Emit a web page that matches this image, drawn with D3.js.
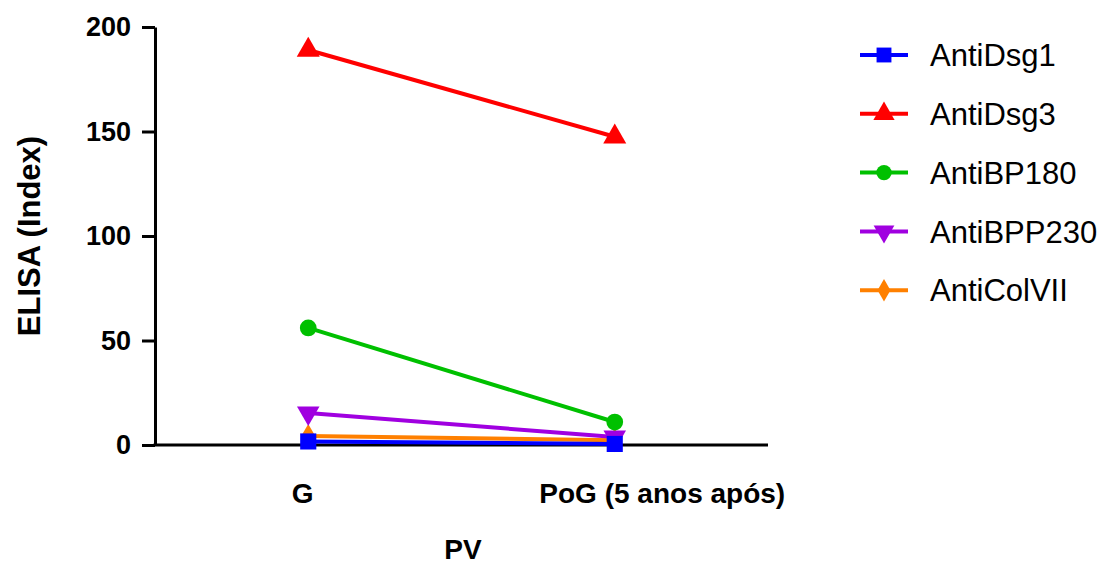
<!DOCTYPE html>
<html>
<head>
<meta charset="utf-8">
<script src="https://cdn.jsdelivr.net/npm/d3@7"></script>
<style>
  body { margin: 0; background: #fff; }
  svg text { font-family: "Liberation Sans", Arial, sans-serif; }
</style>
</head>
<body>
<div class="chart"></div>
<script>
// Data
const groups = ["G", "PoG (5 anos após)"];
const seriesNames = ["AntiDsg1", "AntiDsg3", "AntiBP180", "AntiBPP230", "AntiColVII"];
const dsg1 = [1.7, 0.5];
const dsg3 = [189, 147.5];
const bp180 = [56, 11];
const bpp230 = [15.3, 3.8];
const colVII = [4.3, 2.3];
const yTicks = [0, 50, 100, 150, 200];

const seriesValues = [dsg1, dsg3, bp180, bpp230, colVII];
const colors = ["#0000ff", "#ff0000", "#00c000", "#a000e0", "#ff8000"];
const symbols = [d3.symbolSquare, d3.symbolTriangle, d3.symbolCircle, d3.symbolTriangle, d3.symbolDiamond];
const symbolRotate = [0, 0, 0, 180, 0];
const symbolSize = [260, 230, 220, 220, 170];

const width = 1117, height = 567;
const plot = { left: 155, right: 768, top: 27, bottom: 445 };

const svg = d3.select(".chart")
    .append("svg")
    .attr("width", width)
    .attr("height", height);

const x = d3.scalePoint()
    .domain(groups)
    .range([plot.left, plot.right])
    .padding(0.5);

const y = d3.scaleLinear()
    .domain([0, 200])
    .range([plot.bottom, plot.top]);

// Y axis
const yAxis = svg.append("g")
    .attr("transform", `translate(${plot.left},0)`)
    .call(d3.axisLeft(y).tickValues(yTicks).tickSize(13).tickPadding(11).tickSizeOuter(0));
yAxis.select(".domain").attr("stroke", "#000").attr("stroke-width", 3);
yAxis.selectAll(".tick line").attr("stroke", "#000").attr("stroke-width", 3);
yAxis.selectAll(".tick text")
    .attr("font-size", "27px")
    .attr("font-weight", "bold")
    .attr("fill", "#000")
    .style("font-family", "'Liberation Sans', Arial, sans-serif");

// X axis (no ticks)
const xAxis = svg.append("g")
    .attr("transform", `translate(0,${plot.bottom})`)
    .call(d3.axisBottom(x).tickSize(0).tickPadding(38).tickSizeOuter(0));
xAxis.select(".domain").attr("stroke", "#000").attr("stroke-width", 3)
    .attr("d", `M${plot.left - 1.5},0H${plot.right}`);
const labelShift = [-6, 47];
xAxis.selectAll(".tick text")
    .attr("font-size", "28px")
    .attr("font-weight", "bold")
    .attr("fill", "#000")
    .attr("transform", (d, i) => `translate(${labelShift[i]},0)`)
    .style("font-family", "'Liberation Sans', Arial, sans-serif");

// Axis titles
svg.append("text")
    .attr("transform", `translate(40,${(plot.top + plot.bottom) / 2}) rotate(-90)`)
    .attr("text-anchor", "middle")
    .attr("font-size", "31px")
    .attr("font-weight", "bold")
    .text("ELISA (Index)");

svg.append("text")
    .attr("x", 463)
    .attr("y", 559)
    .attr("text-anchor", "middle")
    .attr("font-size", "28px")
    .attr("font-weight", "bold")
    .text("PV");

// Lines and markers, drawn in reverse so the first series sits on top
const line = d3.line()
    .x((d, i) => x(groups[i]))
    .y(d => y(d));

const order = d3.range(seriesNames.length).reverse();

order.forEach(s => {
    const g = svg.append("g").attr("class", "series");
    g.append("path")
        .attr("d", line(seriesValues[s]))
        .attr("fill", "none")
        .attr("stroke", colors[s])
        .attr("stroke-width", 4);
    g.selectAll("path.marker")
        .data(seriesValues[s])
        .enter()
        .append("path")
        .attr("class", "marker")
        .attr("d", d3.symbol().type(symbols[s]).size(symbolSize[s]))
        .attr("fill", colors[s])
        .attr("transform", (d, i) => `translate(${x(groups[i])},${y(d)}) rotate(${symbolRotate[s]})`);
});

// Legend
const legend = svg.append("g").attr("transform", "translate(860,55)");
const legendRows = legend.selectAll("g")
    .data(seriesNames)
    .enter()
    .append("g")
    .attr("transform", (d, i) => `translate(0,${i * 58.8})`);

legendRows.append("line")
    .attr("x1", 0).attr("x2", 48)
    .attr("y1", 0).attr("y2", 0)
    .attr("stroke", (d, i) => colors[i])
    .attr("stroke-width", 4);

legendRows.append("path")
    .attr("d", (d, i) => d3.symbol().type(symbols[i]).size(symbolSize[i] * 0.85)())
    .attr("fill", (d, i) => colors[i])
    .attr("transform", (d, i) => `translate(24,0) rotate(${symbolRotate[i]})`);

legendRows.append("text")
    .attr("x", 70)
    .attr("y", 0)
    .attr("dy", "0.36em")
    .attr("font-size", "31px")
    .attr("fill", "#000")
    .text(d => d);
</script>
</body>
</html>
